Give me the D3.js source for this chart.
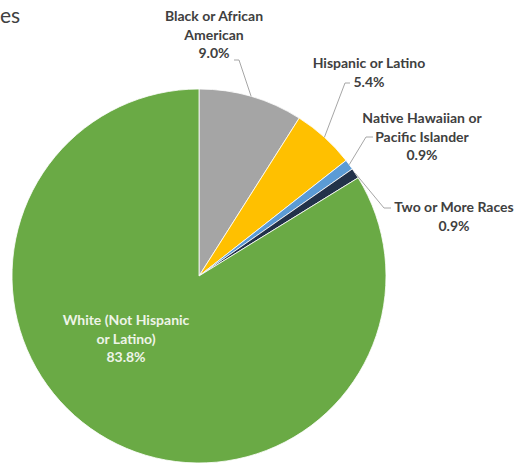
<!DOCTYPE html>
<html>
<head>
<meta charset="utf-8">
<script src="https://cdn.jsdelivr.net/npm/d3@7"></script>
<style>
  html, body { margin: 0; padding: 0; background: #ffffff; }
  svg { display: block; }
</style>
</head>
<body>
<svg id="chart" width="516" height="464"></svg>
<script>
// Population share by race / ethnicity
const categories = [
  "Black or African American",
  "Hispanic or Latino",
  "Native Hawaiian or Pacific Islander",
  "Two or More Races",
  "White (Not Hispanic or Latino)"
];
const values = [9.0, 5.4, 0.9, 0.9, 83.8];
const labelLines = [
  ["Black or African", "American"],
  ["Hispanic or Latino"],
  ["Native Hawaiian or", "Pacific Islander"],
  ["Two or More Races"],
  ["White (Not Hispanic", "or Latino)"]
];
const sliceColors = ["#a5a5a5", "#ffc000", "#5b9bd5", "#22324a", "#6aaa45"];

// Label placement (text centre x, first baseline y, leader hook x/y; inside = label on the slice)
const labelLayout = [
  { x: 214, y: 21, hookX: 234, hookY: 60, elbowX: 239 },
  { x: 369, y: 68, hookX: 350, hookY: 83, elbowX: 345 },
  { x: 422, y: 123, hookX: 373, hookY: 137, elbowX: 366 },
  { x: 454, y: 212, hookX: 391, hookY: 208, elbowX: 384 },
  { x: 126, y: 325, inside: true }
];
const lineHeight = 18.5;

const svg = d3.select("#chart");
const cx = 199, cy = 276, radius = 187;
const font = "Lato, 'Open Sans', sans-serif";

// Partial title at top-left
svg.append("text")
  .attr("x", 0).attr("y", 23)
  .attr("font-family", font)
  .attr("font-size", 21)
  .attr("fill", "#404040")
  .text("es");

const pie = d3.pie().sort(null).value(d => d.value);
const arcs = pie(categories.map((c, i) => ({ name: c, value: values[i], i })));
const arc = d3.arc().innerRadius(0).outerRadius(radius);

const g = svg.append("g").attr("transform", `translate(${cx},${cy})`);
g.selectAll("path.slice")
  .data(arcs)
  .join("path")
  .attr("class", "slice")
  .attr("d", arc)
  .attr("fill", d => sliceColors[d.data.i])
  .attr("stroke", "#ffffff")
  .attr("stroke-width", 0.8);

const pct = d3.format(".1f");

arcs.forEach(d => {
  const L = labelLayout[d.data.i];
  const lines = labelLines[d.data.i].concat([pct(d.data.value) + "%"]);
  if (!L.inside) {
    const mid = (d.startAngle + d.endAngle) / 2;
    const ex = cx + radius * Math.sin(mid);
    const ey = cy - radius * Math.cos(mid);
    svg.append("polyline")
      .attr("points", `${ex},${ey} ${L.elbowX},${L.hookY} ${L.hookX},${L.hookY}`)
      .attr("fill", "none")
      .attr("stroke", "#a6a6a6")
      .attr("stroke-width", 1);
  }
  const t = svg.append("text")
    .attr("text-anchor", "middle")
    .attr("font-family", font)
    .attr("font-weight", 700)
    .attr("font-size", 14)
    .attr("fill", L.inside ? "#eef4e8" : "#404040");
  lines.forEach((s, k) => {
    t.append("tspan")
      .attr("x", L.x)
      .attr("y", L.y + k * lineHeight)
      .text(s);
  });
});
</script>
</body>
</html>
